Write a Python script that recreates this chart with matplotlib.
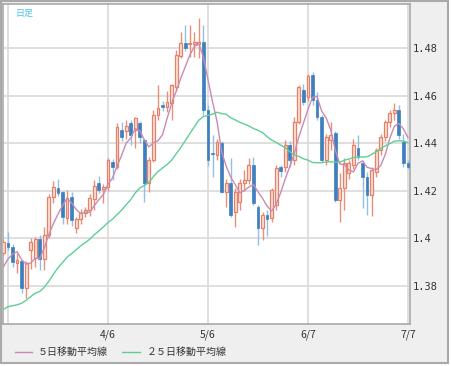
import matplotlib.pyplot as plt
import numpy as np
import pandas as pd
from matplotlib.lines import Line2D
from matplotlib.patches import Rectangle

plt.rcParams['font.family'] = ['Noto Sans CJK JP', 'DejaVu Sans']

# 日足データ (2011/3/4 - 7/7)
dates = pd.bdate_range("2011-03-04", "2011-07-07")

opens = [1.3940, 1.3980, 1.3965, 1.3895, 1.3905, 1.3790, 1.3951, 1.3915, 1.3996, 1.3912,
         1.4014, 1.4175, 1.4211, 1.4196, 1.4084, 1.4175, 1.4042, 1.4080, 1.4108, 1.4119,
         1.4164, 1.4232, 1.4206, 1.4217, 1.4323, 1.4300, 1.4456, 1.4450, 1.4485, 1.4456,
         1.4484, 1.4414, 1.4232, 1.4330, 1.4519, 1.4561, 1.4554, 1.4568, 1.4638, 1.4769,
         1.4821, 1.4817, 1.4818, 1.4818, 1.4825, 1.4540, 1.4358, 1.4351, 1.4403, 1.4196,
         1.4234, 1.4112, 1.4154, 1.4232, 1.4246, 1.4309, 1.4133, 1.4042, 1.4098, 1.4086,
         1.4140, 1.4302, 1.4302, 1.4393, 1.4330, 1.4491, 1.4624, 1.4594, 1.4688, 1.4582,
         1.4512, 1.4330, 1.4414, 1.4442, 1.4161, 1.4211, 1.4274, 1.4309, 1.4379, 1.4316,
         1.4260, 1.4183, 1.4281, 1.4372, 1.4428, 1.4491, 1.4526, 1.4540, 1.4407, 1.4316]
highs = [1.3995, 1.4027, 1.3975, 1.3940, 1.3910, 1.3905, 1.4000, 1.4005, 1.4014, 1.4048,
         1.4185, 1.4240, 1.4250, 1.4200, 1.4205, 1.4195, 1.4090, 1.4125, 1.4130, 1.4185,
         1.4245, 1.4263, 1.4230, 1.4340, 1.4335, 1.4485, 1.4490, 1.4500, 1.4500, 1.4510,
         1.4495, 1.4420, 1.4344, 1.4540, 1.4645, 1.4580, 1.4622, 1.4650, 1.4793, 1.4870,
         1.4898, 1.4898, 1.4870, 1.4930, 1.4898, 1.4560, 1.4435, 1.4420, 1.4410, 1.4250,
         1.4338, 1.4210, 1.4250, 1.4288, 1.4338, 1.4344, 1.4140, 1.4110, 1.4120, 1.4210,
         1.4310, 1.4310, 1.4414, 1.4410, 1.4510, 1.4646, 1.4650, 1.4692, 1.4700, 1.4615,
         1.4520, 1.4440, 1.4491, 1.4450, 1.4274, 1.4340, 1.4330, 1.4417, 1.4435, 1.4330,
         1.4280, 1.4300, 1.4380, 1.4440, 1.4500, 1.4540, 1.4568, 1.4560, 1.4440, 1.4330]
lows = [1.3930, 1.3951, 1.3880, 1.3855, 1.3771, 1.3749, 1.3871, 1.3880, 1.3867, 1.3867,
        1.4000, 1.4150, 1.4180, 1.4060, 1.4060, 1.4050, 1.4023, 1.4060, 1.4090, 1.4095,
        1.4120, 1.4190, 1.4149, 1.4200, 1.4246, 1.4290, 1.4410, 1.4420, 1.4395, 1.4380,
        1.4400, 1.4154, 1.4196, 1.4320, 1.4498, 1.4535, 1.4530, 1.4498, 1.4620, 1.4760,
        1.4790, 1.4765, 1.4765, 1.4760, 1.4520, 1.4305, 1.4259, 1.4330, 1.4190, 1.4133,
        1.4090, 1.4049, 1.4120, 1.4200, 1.4230, 1.4140, 1.3972, 1.3993, 1.4010, 1.4070,
        1.4120, 1.4260, 1.4280, 1.4302, 1.4310, 1.4480, 1.4560, 1.4580, 1.4560, 1.4500,
        1.4320, 1.4310, 1.4372, 1.4155, 1.4070, 1.4119, 1.4250, 1.4290, 1.4330, 1.4126,
        1.4098, 1.4093, 1.4260, 1.4350, 1.4410, 1.4470, 1.4500, 1.4420, 1.4300, 1.4290]
closes = [1.3985, 1.3962, 1.3901, 1.3910, 1.3790, 1.3895, 1.3986, 1.3996, 1.3912, 1.4013,
          1.4175, 1.4217, 1.4192, 1.4091, 1.4168, 1.4077, 1.4080, 1.4105, 1.4119, 1.4168,
          1.4220, 1.4203, 1.4217, 1.4330, 1.4302, 1.4470, 1.4428, 1.4475, 1.4435, 1.4505,
          1.4425, 1.4232, 1.4330, 1.4519, 1.4547, 1.4554, 1.4575, 1.4645, 1.4772, 1.4821,
          1.4800, 1.4821, 1.4825, 1.4828, 1.4540, 1.4330, 1.4354, 1.4407, 1.4196, 1.4234,
          1.4098, 1.4196, 1.4232, 1.4246, 1.4309, 1.4150, 1.4042, 1.4098, 1.4080, 1.4203,
          1.4295, 1.4285, 1.4393, 1.4330, 1.4491, 1.4638, 1.4575, 1.4683, 1.4582, 1.4512,
          1.4330, 1.4428, 1.4435, 1.4161, 1.4211, 1.4316, 1.4316, 1.4393, 1.4344, 1.4260,
          1.4183, 1.4288, 1.4372, 1.4428, 1.4491, 1.4526, 1.4540, 1.4435, 1.4316, 1.4302]
# 移動平均計算用の前期間の終値 (1/31 - 3/3)
prev_closes = [1.3695, 1.3805, 1.3800, 1.3630, 1.3585, 1.3600, 1.3640, 1.3720, 1.3565, 1.3540,
               1.3490, 1.3500, 1.3550, 1.3600, 1.3700, 1.3680, 1.3690, 1.3780, 1.3810, 1.3750,
               1.3800, 1.3795, 1.3860, 1.3960]

grid_dates = ["2011-03-07", "2011-04-06", "2011-05-06", "2011-06-07", "2011-07-07"]
tick_labels = ["", "4/6", "5/6", "6/7", "7/7"]
y_ticks = [1.38, 1.40, 1.42, 1.44, 1.46, 1.48]
y_labels = ["1.38", "1.4", "1.42", "1.44", "1.46", "1.48"]

o = np.array(opens)
h = np.array(highs)
l = np.array(lows)
c = np.array(closes)
x = np.arange(len(dates))

all_c = pd.Series(prev_closes + closes)
ma5 = all_c.rolling(5).mean().values[len(prev_closes):]
ma25 = all_c.rolling(25).mean().values[len(prev_closes):]

fig = plt.figure(figsize=(4.52, 3.66), dpi=100)
fig.patch.set_facecolor("white")
fig.add_artist(Rectangle((0.5 / 452, 1 - 363 / 366), 447.5 / 452, 362.5 / 366,
                         transform=fig.transFigure, facecolor="#efefef",
                         edgecolor="#a9a9a9", linewidth=1.5, zorder=-10))

ax = fig.add_axes([3 / 452, 1 - 324 / 366, 407 / 452, 320 / 366])
ax.set_zorder(1)
ax.set_facecolor("white")

up = c >= o
down = ~up
# ヒゲ
ax.vlines(x[up], l[up], h[up], color="#e98f78", linewidth=1, zorder=3)
ax.vlines(x[down], l[down], h[down], color="#92bfe2", linewidth=1, zorder=3)
# 実体
body_lo = np.minimum(o, c)
body_h = np.maximum(np.abs(c - o), 0.0003)
ax.bar(x[up], body_h[up], bottom=body_lo[up], width=0.62, color="#fbe0d6",
       edgecolor="#e5806a", linewidth=0.9, zorder=4)
ax.bar(x[down], body_h[down], bottom=body_lo[down], width=0.62, color="#3d7fbf",
       edgecolor="#3d7fbf", linewidth=0.5, zorder=4)

ax.plot(x, ma5, color="#c98bb3", linewidth=1, zorder=5)
ax.plot(x, ma25, color="#5fcf95", linewidth=1, zorder=5)

ax.set_xlim(-0.1, len(dates) - 0.55)
ax.set_ylim(1.3639, 1.4987)

grid_pos = [dates.get_loc(pd.Timestamp(d)) for d in grid_dates]
ax.set_xticks(grid_pos)
ax.set_xticklabels(tick_labels, fontsize=7.5, color="#333333")
ax.set_yticks(y_ticks)
ax.set_yticklabels(y_labels, fontsize=7.5, color="#333333", family="DejaVu Sans Mono")
ax.yaxis.tick_right()
ax.tick_params(axis="both", length=0)
ax.tick_params(axis="y", pad=2)
ax.tick_params(axis="x", pad=4)
ax.grid(True, color="#dcdcdc", linewidth=1.3, zorder=0)
ax.set_axisbelow(True)
for s in ax.spines.values():
    s.set_color("#a9a9a9")
    s.set_linewidth(1.2)

ax.text(0.03, 0.985, "日足", transform=ax.transAxes, fontsize=6.5, color="#4cc3f0",
        va="top", ha="left")

# 凡例
ly = 1 - 352 / 366
fig.add_artist(Line2D([15 / 452, 32 / 452], [ly, ly], color="#c98bb3", linewidth=1,
                      transform=fig.transFigure))
fig.text(38 / 452, ly, "５日移動平均線", fontsize=7.2, color="#333333", va="center")
fig.add_artist(Line2D([122 / 452, 140 / 452], [ly, ly], color="#5fcf95", linewidth=1,
                      transform=fig.transFigure))
fig.text(147 / 452, ly, "２５日移動平均線", fontsize=7.2, color="#333333", va="center")

fig.savefig("out.png", dpi=100, facecolor=fig.get_facecolor())
